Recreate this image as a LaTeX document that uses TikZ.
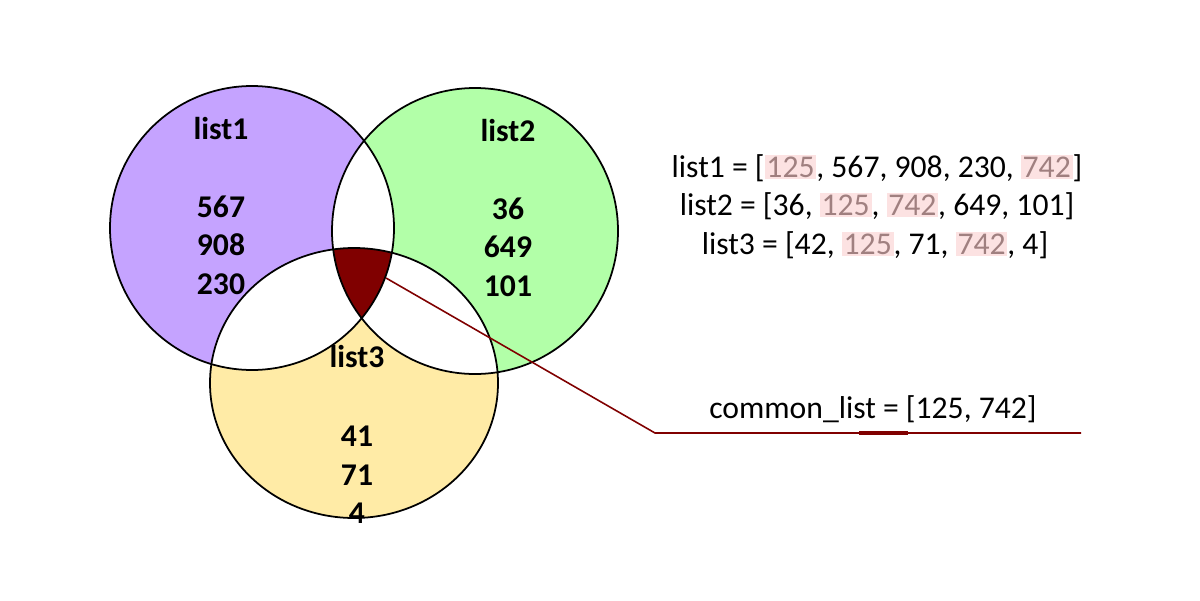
\documentclass[tikz,border=0pt]{standalone}
\usepackage{fontspec}
\setmainfont{Carlito}
\usepackage{xcolor}

\definecolor{setA}{RGB}{197,163,255}
\definecolor{setB}{RGB}{178,255,168}
\definecolor{setC}{RGB}{255,235,166}
\definecolor{common}{RGB}{128,0,0}
\definecolor{hlback}{RGB}{252,226,226}
\definecolor{hlnum}{RGB}{160,128,128}
\newcommand{\hl}[1]{{\setlength{\fboxsep}{0.5pt}\colorbox{hlback}{\textcolor{hlnum}{#1}}}}

\begin{document}
\begin{tikzpicture}[x=0.01cm,y=-0.01cm,font=\fontsize{9}{10.95}\selectfont,
  setlbl/.style={font=\fontsize{9}{10.95}\selectfont\bfseries,align=center},
  outline/.style={draw=black,line width=0.5pt}]
  \useasboundingbox (0,0) rectangle (1200,600);
  % the three sets
  \fill[setA] (252,228) circle [radius=142];
  \fill[setB] (475,231) circle [radius=143];
  \fill[setC] (354,383) ellipse [x radius=144,y radius=135];
  % pairwise overlaps are left white
  \begin{scope}
    \clip (252,228) circle [radius=142];
    \fill[white] (475,231) circle [radius=143];
    \fill[white] (354,383) ellipse [x radius=144,y radius=135];
  \end{scope}
  \begin{scope}
    \clip (475,231) circle [radius=143];
    \fill[white] (354,383) ellipse [x radius=144,y radius=135];
  \end{scope}
  % common part of all three
  \begin{scope}
    \clip (252,228) circle [radius=142];
    \clip (475,231) circle [radius=143];
    \fill[common] (354,383) ellipse [x radius=144,y radius=135];
  \end{scope}
  \draw[outline] (252,228) circle [radius=142];
  \draw[outline] (475,231) circle [radius=143];
  \draw[outline] (354,383) ellipse [x radius=144,y radius=135];

  \node[setlbl] (nameA) at (221,129) {list1};
  \node[setlbl] (nameB) at (508,131) {list2};
  \node[setlbl] (nameC) at (357,357) {list3};
  \node[setlbl] (onlyA) at (221,245) {567\\908\\230};
  \node[setlbl] (onlyB) at (508,247) {36\\649\\101};
  \node[setlbl] (onlyC) at (357,475) {41\\71\\4};

  \node (listA) at (877,168) {list1 = [\hl{125}, 567, 908, 230, \hl{742}]};
  \node (listB) at (877,206) {list2 = [36, \hl{125}, \hl{742}, 649, 101]};
  \node (listC) at (875,245) {list3 = [42, \hl{125}, 71, \hl{742}, 4]};

  \node (result) at (873,409) {common\_list = [125, 742]};
  \coordinate (tip) at (386,278);
  \coordinate (bend) at (655,433);
  \coordinate (lineend) at (1081,433);
  \coordinate (markL) at (859,433);
  \coordinate (markR) at (908,433);
  \draw[common,line width=0.45pt] (tip) -- (bend) -- (lineend);
  \draw[common,line width=0.9pt] (markL) -- (markR);
\end{tikzpicture}
\end{document}
